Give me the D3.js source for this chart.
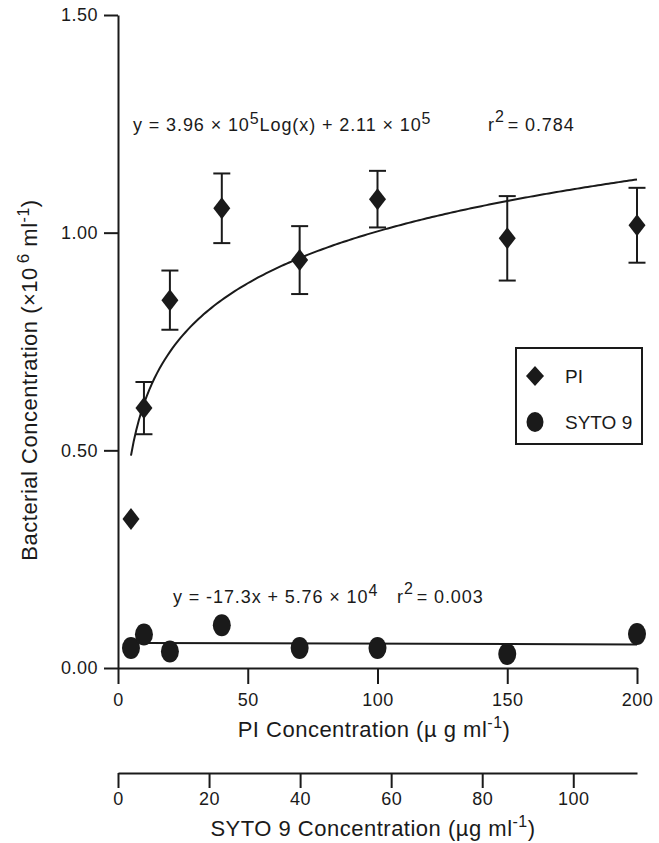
<!DOCTYPE html>
<html><head><meta charset="utf-8">
<script src="https://cdn.jsdelivr.net/npm/d3@7"></script>
<style>
body{margin:0;background:#fff}
svg text{font-family:"Liberation Sans",Arial,Helvetica,sans-serif;fill:#1a1a1a}
</style>
</head><body>
<svg id="chart" width="659" height="843"></svg>
<script>
// ---- data (bacterial concentration in units of 10^6 ml^-1) ----
const piConc    = [5, 10, 20, 40, 70, 100, 150, 200];
const piCells   = [0.342, 0.597, 0.845, 1.056, 0.937, 1.077, 0.987, 1.017];
const piErr     = [0, 0.060, 0.068, 0.080, 0.078, 0.065, 0.097, 0.086];
const sytoConc  = [5, 10, 20, 40, 70, 100, 150, 200];
const sytoCells = [0.046, 0.077, 0.038, 0.098, 0.046, 0.046, 0.032, 0.078];
const yTicks    = [0, 0.5, 1.0, 1.5];
const xTicks    = [0, 50, 100, 150, 200];
const sytoTicks = [0, 20, 40, 60, 80, 100];
// regression lines printed on the chart
const piFitCoef   = [3.96e5, 2.11e5];   // y = a*log10(x) + b
const sytoFitCoef = [-17.3, 5.76e4];    // y = m*x + c
const piFitRange   = [5, 200];
const sytoFitRange = [10, 200];

const svg = d3.select("#chart");
const ink = "#1a1a1a";

const x = d3.scaleLinear().domain([0, 200]).range([118, 637]);
const y = d3.scaleLinear().domain([0, 1.5]).range([668, 15]);
const xs = d3.scaleLinear().domain([0, 114]).range([118, 637]);

function styleAxis(g, fs) {
  g.selectAll("path,line").attr("stroke", ink).attr("stroke-width", 2);
  g.selectAll("text").attr("font-size", fs).attr("letter-spacing", "0.5px")
    .attr("fill", ink).attr("font-family", '"Liberation Sans",Arial,sans-serif');
}

// y axis
svg.append("g").attr("transform", "translate(118,0)")
  .call(d3.axisLeft(y).tickValues(yTicks).tickFormat(d3.format(".2f"))
    .tickSize(14).tickPadding(6).tickSizeOuter(0))
  .call(g => styleAxis(g, 18));

// x axis (PI)
svg.append("g").attr("transform", "translate(0,668)")
  .call(d3.axisBottom(x).tickValues(xTicks).tickFormat(d3.format("d"))
    .tickSize(16).tickPadding(9).tickSizeOuter(0))
  .call(g => styleAxis(g, 18));

// second x axis (SYTO 9)
svg.append("g").attr("transform", "translate(0,773)")
  .call(d3.axisBottom(xs).tickValues(sytoTicks).tickFormat(d3.format("d"))
    .tickSize(15).tickPadding(4).tickSizeOuter(0))
  .call(g => styleAxis(g, 18));

// axis titles
function addText(parent, parts, attrs) {
  const t = parent.append("text");
  Object.entries(attrs).forEach(([k, v]) => t.attr(k, v));
  parts.forEach(p => {
    const ts = t.append("tspan").text(p.t);
    if (p.sup) ts.attr("font-size", p.fs || "0.7em").attr("dy", p.dy);
    else if (p.dy) ts.attr("dy", p.dy);
    if (p.dx) ts.attr("dx", p.dx);
  });
  return t;
}

addText(svg, [
  {t: "Bacterial Concentration (\u00d710"},
  {t: "6", sup: true, dy: -8, dx: 4, fs: 17},
  {t: " ml", dy: 8},
  {t: "-1", sup: true, dy: -8, fs: 16},
  {t: ")", dy: 8}
], {"transform": "translate(37,380) rotate(-90)", "text-anchor": "middle",
    "font-size": 22, "letter-spacing": "0.5px"});

addText(svg, [
  {t: "PI Concentration (\u00b5 g ml"},
  {t: "-1", sup: true, dy: -9, fs: 16},
  {t: ")", dy: 9}
], {x: 374, y: 737, "text-anchor": "middle", "font-size": 22, "letter-spacing": "0.5px"});

addText(svg, [
  {t: "SYTO 9 Concentration  (\u00b5g ml"},
  {t: "-1", sup: true, dy: -9, fs: 16},
  {t: ")", dy: 9}
], {x: 373, y: 836, "text-anchor": "middle", "font-size": 22, "letter-spacing": "0.5px"});

// PI regression curve
const piCurveX = d3.range(piFitRange[0], piFitRange[1] + 0.001, 1);
svg.append("path")
  .datum(piCurveX)
  .attr("fill", "none").attr("stroke", ink).attr("stroke-width", 2)
  .attr("d", d3.line()
    .x(d => x(d))
    .y(d => y((piFitCoef[0] * Math.log10(d) + piFitCoef[1]) / 1e6)));

// SYTO regression line
svg.append("path")
  .datum(sytoFitRange)
  .attr("fill", "none").attr("stroke", ink).attr("stroke-width", 2)
  .attr("d", d3.line()
    .x(d => x(d))
    .y(d => y((sytoFitCoef[0] * d + sytoFitCoef[1]) / 1e6)));

// error bars
const eb = svg.append("g").attr("stroke", ink).attr("stroke-width", 2);
piConc.forEach((c, i) => {
  if (!piErr[i]) return;
  const cx = x(c), y1 = y(piCells[i] - piErr[i]), y2 = y(piCells[i] + piErr[i]);
  eb.append("line").attr("x1", cx).attr("x2", cx).attr("y1", y1).attr("y2", y2);
  eb.append("line").attr("x1", cx - 8.5).attr("x2", cx + 8.5).attr("y1", y1).attr("y2", y1);
  eb.append("line").attr("x1", cx - 8.5).attr("x2", cx + 8.5).attr("y1", y2).attr("y2", y2);
});

const diamond = "M0,-11L8.5,0L0,11L-8.5,0Z";
// PI diamonds
svg.append("g").selectAll("path").data(piConc).join("path")
  .attr("d", diamond).attr("fill", ink)
  .attr("transform", (d, i) => `translate(${x(d)},${y(piCells[i])})`);

// SYTO circles
svg.append("g").selectAll("ellipse").data(sytoConc).join("ellipse")
  .attr("cx", d => x(d)).attr("cy", (d, i) => y(sytoCells[i]))
  .attr("rx", 9).attr("ry", 11).attr("fill", ink);

// equations
const eq = svg.append("g").attr("font-size", 18).attr("letter-spacing", "0.9px");
addText(eq, [
  {t: "y = 3.96 \u00d7 10"},
  {t: "5", sup: true, dy: -7, fs: 16},
  {t: "Log(x) + 2.11 \u00d7 10", dy: 7},
  {t: "5", sup: true, dy: -7, fs: 16}
], {x: 133, y: 131});
addText(eq, [
  {t: "r"},
  {t: "2", sup: true, dy: -9, fs: 16},
  {t: "= 0.784", dy: 9, dx: 3}
], {x: 488, y: 131});

addText(eq, [
  {t: "y =  -17.3x + 5.76 \u00d7 10"},
  {t: "4", sup: true, dy: -7, fs: 16}
], {x: 173, y: 603});
addText(eq, [
  {t: "r"},
  {t: "2", sup: true, dy: -9, fs: 16},
  {t: "= 0.003", dy: 9, dx: 3}
], {x: 397, y: 603});

// legend
const lg = svg.append("g");
lg.append("rect").attr("x", 516).attr("y", 348).attr("width", 126).attr("height", 96)
  .attr("fill", "none").attr("stroke", ink).attr("stroke-width", 2);
lg.append("path").attr("d", "M0,-10L9,0L0,10L-9,0Z").attr("fill", ink)
  .attr("transform", "translate(535,376)");
lg.append("ellipse").attr("cx", 535).attr("cy", 422).attr("rx", 8.5).attr("ry", 10).attr("fill", ink);
lg.append("text").attr("x", 565).attr("y", 383).attr("font-size", 19).text("PI");
lg.append("text").attr("x", 565).attr("y", 429).attr("font-size", 19).text("SYTO 9");
</script>
</body></html>
